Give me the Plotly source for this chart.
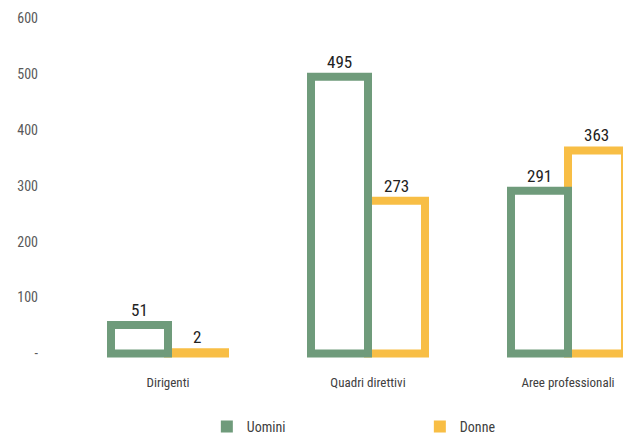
import plotly.graph_objects as go

# Personale per categoria e genere
categorie = ["Dirigenti", "Quadri direttivi", "Aree professionali"]
uomini = [51, 495, 291]
donne = [2, 273, 363]

tick_valori = [0, 100, 200, 300, 400, 500, 600]
tick_testi = ["-", "100", "200", "300", "400", "500", "600"]

VERDE = "#6f9b7b"
GIALLO = "#f8be45"
FONT = "Liberation Sans Narrow, Roboto Condensed, Arial Narrow, sans-serif"
LARGHEZZA = 0.285

fig = go.Figure()

# Donne a destra del centro categoria (disegnate prima, sotto al bordo verde)
fig.add_trace(go.Bar(
    x=categorie, y=donne, name="Donne", showlegend=False,
    width=LARGHEZZA, offset=0,
    marker=dict(color="white", line=dict(color=GIALLO, width=8)),
))
# Uomini a sinistra del centro categoria
fig.add_trace(go.Bar(
    x=categorie, y=uomini, name="Uomini", showlegend=False,
    width=LARGHEZZA, offset=-LARGHEZZA,
    marker=dict(color="white", line=dict(color=VERDE, width=8)),
))

# Etichette dei valori sopra ciascuna barra
for serie, spostamento in [(uomini, -LARGHEZZA / 2), (donne, LARGHEZZA / 2)]:
    for i, valore in enumerate(serie):
        fig.add_annotation(
            x=i + spostamento, y=valore, xref="x", yref="y",
            text=str(valore), showarrow=False,
            yanchor="middle", yshift=15,
            font=dict(family=FONT, size=17, color="#222222"),
        )

# Voci di legenda con quadratini pieni
for nome, colore in [("Uomini", VERDE), ("Donne", GIALLO)]:
    fig.add_trace(go.Scatter(
        x=[None], y=[None], mode="markers", name=nome,
        marker=dict(symbol="square", size=12, color=colore),
    ))

fig.update_layout(
    width=627, height=437,
    margin=dict(l=45, r=4, t=18, b=78, autoexpand=False),
    paper_bgcolor="white", plot_bgcolor="white",
    barmode="overlay",
    font=dict(family=FONT, size=13, color="#404040"),
    showlegend=True,
    legend=dict(
        orientation="h", x=0.28, xanchor="left", y=-0.199, yanchor="middle",
        entrywidth=168, entrywidthmode="pixels", itemwidth=30,
        font=dict(family=FONT, size=14, color="#404040"),
    ),
    xaxis=dict(
        type="category", range=[-0.615, 2.275],
        showgrid=False, zeroline=False, showline=False, ticks="",
        ticklabelstandoff=14,
        tickfont=dict(family=FONT, size=13, color="#404040"),
    ),
    yaxis=dict(
        range=[-10, 600], tickvals=tick_valori, ticktext=tick_testi,
        showgrid=False, zeroline=False, showline=False, ticks="",
        ticklabelstandoff=6,
        tickfont=dict(family=FONT, size=14, color="#595959"),
    ),
)

fig.write_html("out.html")
